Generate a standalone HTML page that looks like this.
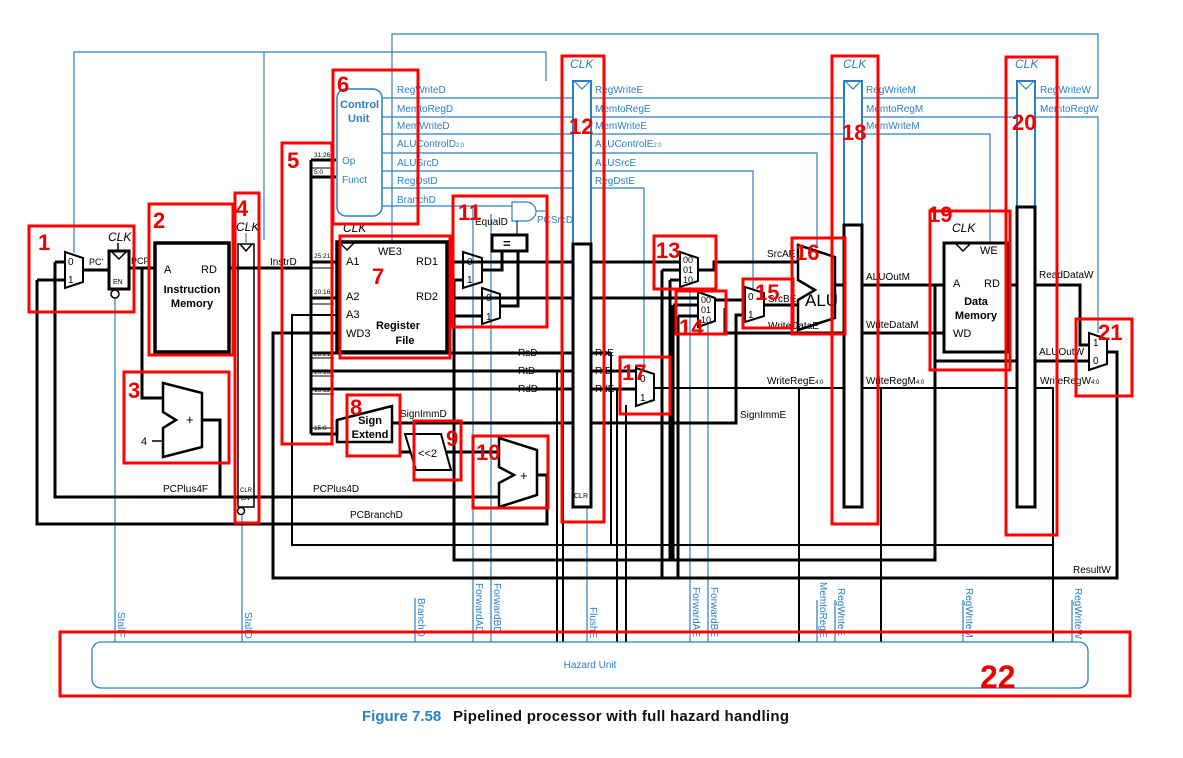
<!DOCTYPE html>
<html><head><meta charset="utf-8"><style>
html,body{margin:0;padding:0;background:#fff;}
svg{display:block;font-family:"Liberation Sans",sans-serif;font-size:10px;}
.k{stroke:#000;stroke-width:3;fill:none;}
.kt{stroke:#000;stroke-width:1.5;fill:none;}
.b{stroke:#2a7fc4;stroke-width:1.2;fill:none;}
.r{stroke:#f00;stroke-width:3;fill:none;}
.bt{fill:#2a7fc4;}
.t{fill:#000;}
.rn{fill:#e00;font-family:"Liberation Sans",sans-serif;}
.vt{fill:#2a7fc4;}
</style></head><body>
<svg width="1183" height="758" viewBox="0 0 1183 758" xmlns="http://www.w3.org/2000/svg">
<!-- blue control lines top -->
<path class="b" d="M74 253 V52 H546 V81"/>
<path class="b" d="M264 52 V240"/>
<path class="b" d="M392 242 V34 H1098 V98 H1036"/>
<path class="b" d="M1036 117 H1098 V333"/>
<path class="b" d="M382 98 H573 M382 117 H573 M382 134 H573 M382 153 H573 M382 171 H573 M382 188 H573 M382 206 H512"/>
<path class="b" d="M591 98 H844 M591 117 H844 M591 134 H844 M591 153 H817 V248 M591 171 H753 V290 M591 188 H644 V372"/>
<path class="b" d="M862 98 H1017 M862 117 H1017 M862 134 H990 V243"/>
<path class="b" d="M115 298 V642 M242 515 V642 M415 598 V642 M473 206 V642 M491 214 V642 M587 507 V642 M690 287 V642 M708 322 V642 M817 600 V642 M835 600 V642 M963 600 V642 M1072 600 V642"/>
<rect x="337" y="89" width="45" height="127" rx="9" class="b" style="stroke-width:1.5" fill="#fff"/>
<text x="340" y="108" class="bt" font-weight="bold" font-size="11">Control</text>
<text x="348" y="122" class="bt" font-weight="bold" font-size="11">Unit</text>
<text x="342" y="164" class="bt">Op</text>
<text x="342" y="183" class="bt">Funct</text>
<text x="397" y="93" class="bt">RegWriteD</text>
<text x="397" y="112" class="bt">MemtoRegD</text>
<text x="397" y="129" class="bt">MemWriteD</text>
<text x="397" y="147" class="bt">ALUControlD<tspan font-size="6">2:0</tspan></text>
<text x="397" y="166" class="bt">ALUSrcD</text>
<text x="397" y="184" class="bt">RegDstD</text>
<text x="397" y="203" class="bt">BranchD</text>
<text x="595" y="93" class="bt">RegWriteE</text>
<text x="595" y="112" class="bt">MemtoRegE</text>
<text x="595" y="129" class="bt">MemWriteE</text>
<text x="595" y="147" class="bt">ALUControlE<tspan font-size="6">2:0</tspan></text>
<text x="595" y="166" class="bt">ALUSrcE</text>
<text x="595" y="184" class="bt">RegDstE</text>
<text x="866" y="93" class="bt">RegWriteM</text>
<text x="866" y="112" class="bt">MemtoRegM</text>
<text x="866" y="129" class="bt">MemWriteM</text>
<text x="1040" y="93" class="bt">RegWriteW</text>
<text x="1040" y="112" class="bt">MemtoRegW</text>
<!-- AND gate -->
<path d="M512 202 H526 A10 9.5 0 0 1 526 221 H512 Z" class="b" fill="#fff"/>
<path class="b" d="M536 211 H545"/>
<text x="537" y="223" class="bt">PCSrcD</text>
<path class="kt" d="M517 221 V235" style="stroke-width:1"/>
<text x="475" y="225" class="t">EqualD</text>

<!-- black wires -->
<path class="k" d="M83 270 H109 M129 268 H155 M142 268 V398 H163"/>
<path class="k" d="M202 420 H220 V497 M55 262 H65 M55 262 V497 H499 M37 280 H65 M37 280 V524 H547 V475 H537"/>
<path class="k" d="M229 268 H311"/>
<path class="k" d="M311 160 V434"/>
<path class="k" d="M311 160 H336 M311 177 H336 M311 262 H338 M311 298 H338 M311 353 H573 M311 371 H573 M311 389 H573 M311 434 H337 V420"/>
<path class="kt" d="M311 168 H334 M311 268 H334 M311 304 H334 M311 358 H334 M311 376 H334 M311 394 H334 M311 428 H334" style="stroke-width:1"/>
<path class="kt" d="M337 315 H292 V545 H1053 V388 H1036" style="stroke-width:2"/>
<path class="k" d="M337 333 H273 V578 H1117 V352 H1107"/>
<path class="k" d="M447 262 H463 M447 298 H482 M454 280 H463 M454 280 V560 H935 V361 H1017 M454 316 H482"/>
<path class="k" d="M482 270 H502 V251 M500 306 H518 V251"/>
<path class="k" d="M447 262 H573 M482 298 H573"/>
<path class="k" d="M392 423 H573 M400 423 V452 H410 M447 452 H499"/>
<path class="k" d="M591 262 H680 M591 298 H698 M591 353 H611 M591 371 H636 M591 389 H636 M591 423 H736 V315 H745"/>
<path class="kt" d="M654 388 H844 M862 388 H1017" style="stroke-width:2"/>
<path class="k" d="M662 270 H680 M670 280 H680 M662 270 V578 M670 280 V560 M673 305 H698 M678 316 H698 M673 305 V560 M678 316 V578"/>
<path class="k" d="M698 270 H714 V262 H798 M715 300 H745 M725 308 V333 H844 M764 305 H798"/>
<path class="k" d="M835 285 H844 M862 285 H944 M862 333 H944"/>
<path class="k" d="M1008 285 H1017 M1035 285 H1080 V345 H1089 M1035 361 H1089 M935 285 V361"/>
<path class="kt" d="M563 353 V642 M611 353 V545 M617 389 V642 M626 405 V642 M799 388 V642 M881 388 V642 M1053 388 V642 M557 371 V642" style="stroke-width:2"/>

<!-- pipeline regs (on top of wires) -->
<rect x="238" y="244" width="16" height="263" class="kt" fill="#fff"/>
<path d="M240 244 L246 251 L252 244" class="kt"/>
<text x="236" y="231" class="t" font-style="italic" font-size="12">CLK</text>
<text x="240" y="492" class="t" font-size="6">CLR</text>
<text x="241" y="500" class="t" font-size="6">EN</text>
<circle cx="241" cy="511" r="3.5" class="kt" fill="#fff"/>
<path class="b" d="M246 233 V244"/>
<rect x="573" y="81" width="18" height="163" class="b" style="stroke-width:2" fill="#fff"/>
<rect x="573" y="244" width="18" height="263" class="k" fill="#fff"/>
<path d="M574 81 L582 89 L590 81" class="b"/>
<text x="570" y="68" class="bt" font-style="italic" font-size="12">CLK</text>
<text x="574" y="498" class="t" font-size="7">CLR</text>
<rect x="844" y="81" width="18" height="144" class="b" style="stroke-width:2" fill="#fff"/>
<rect x="844" y="225" width="18" height="282" class="k" fill="#fff"/>
<path d="M845 81 L853 89 L861 81" class="b"/>
<text x="843" y="68" class="bt" font-style="italic" font-size="12">CLK</text>
<rect x="1017" y="81" width="18" height="126" class="b" style="stroke-width:2" fill="#fff"/>
<rect x="1017" y="207" width="18" height="300" class="k" fill="#fff"/>
<path d="M1018 81 L1026 89 L1034 81" class="b"/>
<text x="1015" y="68" class="bt" font-style="italic" font-size="12">CLK</text>

<!-- PC mux & reg -->
<path d="M65 252 L83 258 L83 282 L65 288 Z" class="k" fill="#fff" style="stroke-width:2"/>
<text x="68" y="265" class="t">0</text><text x="68" y="283" class="t">1</text>
<rect x="109" y="251" width="20" height="38" class="k" fill="#fff"/>
<path d="M111 251 L119 259 L127 251" class="kt"/>
<text x="113" y="284" class="t" font-size="7">EN</text>
<circle cx="115" cy="294" r="4" class="kt" fill="#fff"/>
<text x="108" y="241" class="t" font-style="italic" font-size="12">CLK</text>
<path class="kt" d="M118 243 V251"/>
<text x="89" y="265" class="t" font-size="9">PC'</text>
<text x="131" y="264" class="t" font-size="9">PCF</text>
<!-- IM -->
<rect x="155" y="243" width="74" height="109" class="k" fill="#fff" style="stroke-width:3.5"/>
<text x="164" y="273" class="t" font-size="11">A</text>
<text x="201" y="273" class="t" font-size="11">RD</text>
<text x="192" y="293" class="t" font-size="11" font-weight="bold" text-anchor="middle">Instruction</text>
<text x="192" y="307" class="t" font-size="11" font-weight="bold" text-anchor="middle">Memory</text>
<!-- adder PC+4 -->
<path d="M163 383 L202 393 L202 447 L163 457 L163 428 L176 420 L163 412 Z" class="k" fill="#fff" style="stroke-width:2.5"/>
<text x="186" y="424" class="t" font-size="13">+</text>
<text x="141" y="445" class="t" font-size="11">4</text>
<path class="kt" d="M152 441 H163"/>
<text x="163" y="492" class="t">PCPlus4F</text>
<text x="313" y="492" class="t">PCPlus4D</text>
<text x="350" y="518" class="t">PCBranchD</text>
<text x="270" y="265" class="t">InstrD</text>
<g class="t" font-size="6.5">
<text x="314" y="157">31:26</text><text x="314" y="174">5:0</text><text x="314" y="258">25:21</text>
<text x="314" y="294">20:16</text><text x="314" y="356">25:21</text><text x="314" y="374">20:16</text>
<text x="314" y="392">15:11</text><text x="314" y="430">15:0</text></g>
<!-- register file -->
<rect x="337" y="242" width="110" height="110" class="k" fill="#fff" style="stroke-width:3.5"/>
<path d="M339 242 L347 250 L355 242" class="kt"/>
<text x="343" y="232" class="t" font-style="italic" font-size="12">CLK</text>
<g class="t" font-size="11">
<text x="346" y="265">A1</text><text x="378" y="255">WE3</text><text x="416" y="265">RD1</text>
<text x="346" y="300">A2</text><text x="416" y="300">RD2</text><text x="346" y="318">A3</text><text x="346" y="337">WD3</text></g>
<text x="398" y="329" class="t" font-size="11" font-weight="bold" text-anchor="middle">Register</text>
<text x="405" y="344" class="t" font-size="11" font-weight="bold" text-anchor="middle">File</text>
<!-- eq muxes -->
<path d="M463 252 L482 258 L482 282 L463 288 Z" class="k" fill="#fff" style="stroke-width:2"/>
<text x="467" y="265" class="t">0</text><text x="467" y="283" class="t">1</text>
<path d="M482 288 L500 294 L500 318 L482 324 Z" class="k" fill="#fff" style="stroke-width:2"/>
<text x="486" y="301" class="t">0</text><text x="486" y="320" class="t">1</text>
<rect x="492" y="235" width="35" height="16" class="k" fill="#fff"/>
<text x="503" y="248" class="t" font-size="13" font-weight="bold">=</text>
<text x="518" y="356" class="t">RsD</text><text x="518" y="374" class="t">RtD</text><text x="518" y="392" class="t">RdD</text>
<!-- sign extend etc -->
<path d="M337 420 L392 406 L392 442 L337 442 Z" class="k" fill="#fff" style="stroke-width:2.5"/>
<text x="370" y="424" class="t" font-size="11" font-weight="bold" text-anchor="middle">Sign</text>
<text x="370" y="438" class="t" font-size="11" font-weight="bold" text-anchor="middle">Extend</text>
<text x="400" y="417" class="t">SignImmD</text>
<path d="M405 434 L441 434 L451 470 L416 470 Z" class="k" fill="#fff" style="stroke-width:2"/>
<text x="418" y="457" class="t" font-size="11">&lt;&lt;2</text>
<path d="M499 438 L537 450 L537 495 L499 507 L499 483 L514 475 L499 467 Z" class="k" fill="#fff" style="stroke-width:2.5"/>
<text x="520" y="480" class="t" font-size="13">+</text>
<!-- execute stage -->
<text x="595" y="356" class="t">RsE</text><text x="595" y="374" class="t">RtE</text><text x="595" y="392" class="t">RdE</text>
<path d="M636 368 L654 374 L654 400 L636 406 Z" class="k" fill="#fff" style="stroke-width:2"/>
<text x="640" y="382" class="t">0</text><text x="640" y="401" class="t">1</text>
<text x="767" y="384" class="t">WriteRegE<tspan font-size="6">4:0</tspan></text>
<text x="866" y="384" class="t">WriteRegM<tspan font-size="6">4:0</tspan></text>
<text x="1040" y="384" class="t">WriteRegW<tspan font-size="6">4:0</tspan></text>
<text x="740" y="418" class="t">SignImmE</text>
<path d="M680 252 L698 258 L698 281 L680 287 Z" class="k" fill="#fff" style="stroke-width:2"/>
<text x="683" y="263" class="t" font-size="9">00</text><text x="683" y="273" class="t" font-size="9">01</text><text x="683" y="283" class="t" font-size="9">10</text>
<path d="M698 292 L715 298 L715 321 L698 327 Z" class="k" fill="#fff" style="stroke-width:2"/>
<text x="701" y="303" class="t" font-size="9">00</text><text x="701" y="313" class="t" font-size="9">01</text><text x="701" y="323" class="t" font-size="9">10</text>
<path d="M745 287 L764 293 L764 316 L745 322 Z" class="k" fill="#fff" style="stroke-width:2"/>
<text x="748" y="300" class="t">0</text><text x="748" y="318" class="t">1</text>
<text x="767" y="257" class="t">SrcAE</text><text x="768" y="302" class="t">SrcBE</text><text x="768" y="329" class="t">WriteDataE</text>
<path d="M798 245 L835 257 L835 318 L798 330 L798 300 L815 290 L798 280 Z" class="k" fill="#fff" style="stroke-width:2.5"/>
<text x="805" y="306" class="t" font-size="17">ALU</text>
<text x="866" y="280" class="t">ALUOutM</text><text x="866" y="328" class="t">WriteDataM</text>
<!-- data memory -->
<rect x="944" y="243" width="64" height="109" class="k" fill="#fff"/>
<path d="M955 243 L963 251 L971 243" class="kt"/>
<text x="952" y="232" class="t" font-style="italic" font-size="12">CLK</text>
<text x="980" y="254" class="t" font-size="11">WE</text>
<text x="953" y="287" class="t" font-size="11">A</text><text x="984" y="287" class="t" font-size="11">RD</text>
<text x="976" y="305" class="t" font-size="11" font-weight="bold" text-anchor="middle">Data</text>
<text x="976" y="319" class="t" font-size="11" font-weight="bold" text-anchor="middle">Memory</text>
<text x="953" y="337" class="t" font-size="11">WD</text>
<text x="1039" y="278" class="t">ReadDataW</text><text x="1039" y="355" class="t">ALUOutW</text>
<path d="M1089 333 L1107 339 L1107 364 L1089 370 Z" class="k" fill="#fff" style="stroke-width:2"/>
<text x="1093" y="346" class="t">1</text><text x="1093" y="364" class="t">0</text>
<text x="1073" y="573" class="t">ResultW</text>
<!-- hazard unit -->
<rect x="92" y="642" width="996" height="46" rx="9" class="b" style="stroke-width:1.3"/>
<text x="590" y="668" class="bt" text-anchor="middle">Hazard Unit</text>
<g class="vt">
<text transform="translate(118,612) rotate(90)">StallF</text>
<text transform="translate(245,612) rotate(90)">StallD</text>
<text transform="translate(418,598) rotate(90)">BranchD</text>
<text transform="translate(476,583) rotate(90)">ForwardAD</text>
<text transform="translate(494,583) rotate(90)">ForwardBD</text>
<text transform="translate(590,607) rotate(90)">FlushE</text>
<text transform="translate(693,587) rotate(90)">ForwardAE</text>
<text transform="translate(711,587) rotate(90)">ForwardBE</text>
<text transform="translate(820,582) rotate(90)">MemtoRegE</text>
<text transform="translate(838,588) rotate(90)">RegWriteE</text>
<text transform="translate(966,588) rotate(90)">RegWriteM</text>
<text transform="translate(1075,588) rotate(90)">RegWriteW</text>
</g>
<!-- caption -->
<text x="362" y="721" font-size="15" font-weight="bold" fill="#2a7fc4">Figure 7.58</text>
<text x="453" y="721" font-size="15" font-weight="bold" fill="#111" textLength="336">Pipelined processor with full hazard handling</text>
<!-- red annotations -->
<g class="r">
<rect x="29" y="226" width="105" height="86"/><rect x="149" y="204" width="84" height="151"/>
<rect x="124" y="372" width="105" height="91"/><rect x="235" y="193" width="24" height="330"/>
<rect x="282" y="143" width="50" height="301"/><rect x="333" y="70" width="85" height="154"/>
<rect x="340" y="236" width="110" height="122"/><rect x="347" y="395" width="53" height="61"/>
<rect x="414" y="421" width="47" height="59"/><rect x="473" y="436" width="75" height="72"/>
<rect x="453" y="196" width="94" height="131"/><rect x="562" y="56" width="42" height="466"/>
<rect x="654" y="236" width="62" height="53"/><rect x="676" y="291" width="50" height="43"/>
<rect x="743" y="279" width="50" height="49"/><rect x="792" y="238" width="53" height="96"/>
<rect x="620" y="357" width="50" height="57"/><rect x="832" y="56" width="46" height="468"/>
<rect x="930" y="211" width="80" height="159"/><rect x="1006" y="57" width="51" height="478"/>
<rect x="1076" y="319" width="56" height="77"/><rect x="60" y="632" width="1070" height="64"/>
</g>
<g class="rn" font-size="22" font-weight="bold">
<text x="38" y="250">1</text><text x="153" y="228">2</text><text x="128" y="398">3</text><text x="236" y="216">4</text>
<text x="287" y="168">5</text><text x="337" y="92">6</text><text x="372" y="284">7</text><text x="350" y="415">8</text>
<text x="446" y="446">9</text><text x="476" y="460">10</text><text x="458" y="220">11</text><text x="569" y="134">12</text>
<text x="656" y="258">13</text><text x="679" y="335">14</text><text x="755" y="300">15</text><text x="795" y="260">16</text>
<text x="622" y="380">17</text><text x="842" y="140">18</text><text x="928" y="222">19</text><text x="1012" y="130">20</text>
<text x="1098" y="340">21</text><text x="980" y="688" font-size="32">22</text>
</g>
</svg>
</body></html>
